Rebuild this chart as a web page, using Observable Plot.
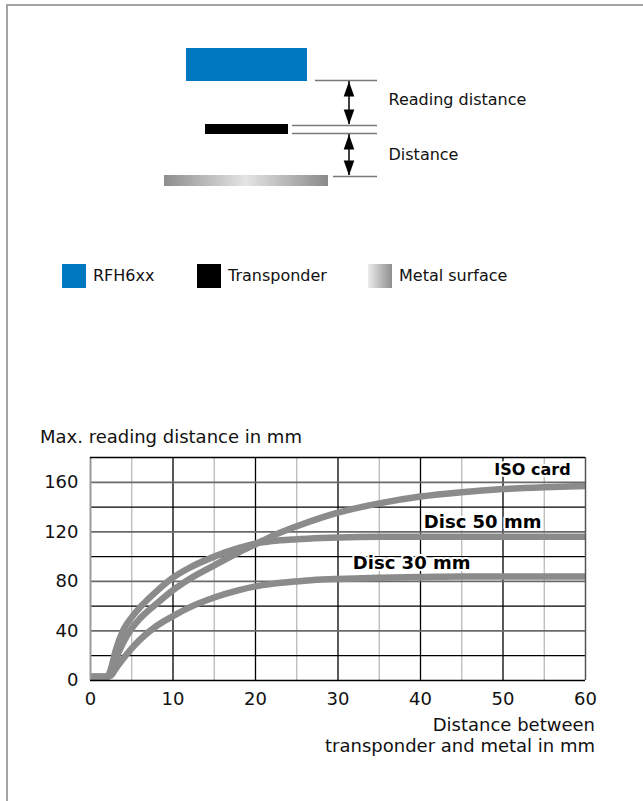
<!DOCTYPE html>
<html>
<head>
<meta charset="utf-8">
<script src="https://cdn.jsdelivr.net/npm/d3@7"></script>
<script src="https://cdn.jsdelivr.net/npm/@observablehq/plot@0.6"></script>
<style>
  html, body { margin: 0; padding: 0; background: #fff; }
  body { font-family: "DejaVu Sans", sans-serif; color: #111; }
  #page { position: relative; width: 643px; height: 801px; overflow: hidden; background: #fff; }
  #frame { position: absolute; left: 6px; top: 4px; width: 660px; height: 820px;
           border-top: 2px solid #a3a3a3; border-left: 2px solid #a3a3a3; }
  .abs { position: absolute; }
  .sw { position: absolute; width: 24px; height: 24px; }
  .lt { position: absolute; font-size: 16px; line-height: 20px; white-space: nowrap; }
  #ytitle { left: 40px; top: 427px; font-size: 18px; line-height: 20px; white-space: nowrap; }
  #xtitle { right: 48px; top: 714px; font-size: 18px; line-height: 21px; text-align: right; white-space: nowrap; }
</style>
</head>
<body>
<div id="page">
  <div id="frame"></div>
  <div id="schema" class="abs" style="left:0;top:0"></div>
  <div id="legend"></div>
  <div id="ytitle" class="abs"></div>
  <div id="chart" class="abs" style="left:0;top:450px"></div>
  <div id="xtitle" class="abs"></div>
</div>
<script>
// ---------------- data ----------------
const distance = [0, 2, 2.5, 3, 4, 5, 6, 8, 10, 12, 15, 18, 20, 22, 25, 28, 30, 35, 40, 45, 50, 55, 60];
const isoCard  = [3, 3, 7, 16, 31, 42, 50, 62, 73, 82, 93, 103.5, 110, 116.5, 124.5, 131.5, 135.5, 143, 148.5, 152, 154.5, 156, 157];
const disc50   = [3, 3, 10, 23, 41, 51, 59, 72, 83, 91, 100, 107, 110.5, 112.5, 114, 115, 115.5, 116, 116, 116, 116, 116, 116];
const disc30   = [3, 3, 4, 9, 18, 26, 33, 44, 52, 59, 67, 73, 76, 78, 80, 81.5, 82, 83, 83.5, 84, 84, 84, 84];
const seriesNames = ["ISO card", "Disc 50 mm", "Disc 30 mm"];
const xTicks = [0, 10, 20, 30, 40, 50, 60];
const yTicks = [0, 40, 80, 120, 160];
const labelX = [58.2, 40.4, 31.8];
const labelY = [170, 128, 95];
const legendNames = ["RFH6xx", "Transponder", "Metal surface"];
const yTitle = "Max. reading distance in mm";
const xTitleLines = ["Distance between", "transponder and metal in mm"];
const schemaTexts = ["Reading distance", "Distance"];

// ---------------- schematic ----------------
const S = { w: 643, h: 200 };
const parts = [
  {x1: 186, x2: 307, y1: 48, y2: 81, fill: "#0077c1"},
  {x1: 205, x2: 288, y1: 124, y2: 134, fill: "#000"},
  {x1: 164, x2: 328, y1: 175, y2: 186, fill: "url(#metalGrad)"}
];
const refLines = [
  {y: 80, x1: 315, x2: 377},
  {y: 125, x1: 292, x2: 377},
  {y: 133, x1: 292, x2: 377},
  {y: 176, x1: 333, x2: 377}
];
const shafts = [{x: 348.5, y1: 81, y2: 124}, {x: 348.5, y1: 134, y2: 175}];
const headsUp = [{x: 348.5, y: 81}, {x: 348.5, y: 134}];
const headsDown = [{x: 348.5, y: 124}, {x: 348.5, y: 175}];
const triUp = {draw(ctx) { ctx.moveTo(0, 0); ctx.lineTo(-5.3, 15); ctx.lineTo(5.3, 15); ctx.closePath(); }};
const triDown = {draw(ctx) { ctx.moveTo(0, 0); ctx.lineTo(-5.3, -15); ctx.lineTo(5.3, -15); ctx.closePath(); }};
const schemaLabels = [{x: 388, y: 99, t: schemaTexts[0]}, {x: 388, y: 154, t: schemaTexts[1]}];

const schema = Plot.plot({
  width: S.w, height: S.h,
  margin: 0,
  x: {domain: [0, S.w], range: [0, S.w], axis: null},
  y: {domain: [0, S.h], range: [0, S.h], axis: null},
  style: {fontFamily: "DejaVu Sans, sans-serif", background: "transparent"},
  marks: [
    Plot.rect(parts, {x1: "x1", x2: "x2", y1: "y1", y2: "y2", fill: d => d.fill}),
    Plot.ruleY(refLines, {y: "y", x1: "x1", x2: "x2", stroke: "#7a7a7a", strokeWidth: 1.6}),
    Plot.ruleX(shafts, {x: "x", y1: "y1", y2: "y2", stroke: "#000", strokeWidth: 1.5}),
    Plot.dot(headsUp, {x: "x", y: "y", symbol: triUp, fill: "#000", stroke: null}),
    Plot.dot(headsDown, {x: "x", y: "y", symbol: triDown, fill: "#000", stroke: null}),
    Plot.text(schemaLabels, {x: "x", y: "y", text: "t", textAnchor: "start", fontSize: 16, fill: "#111"})
  ]
});
{
  const svg = d3.select(schema);
  const defs = svg.insert("defs", ":first-child");
  const g = defs.append("linearGradient").attr("id", "metalGrad").attr("x1", "0%").attr("x2", "100%").attr("y1", "0%").attr("y2", "0%");
  g.append("stop").attr("offset", "0%").attr("stop-color", "#8e8e8e");
  g.append("stop").attr("offset", "50%").attr("stop-color", "#e4e4e4");
  g.append("stop").attr("offset", "100%").attr("stop-color", "#8a8a8a");
}
document.getElementById("schema").append(schema);

// ---------------- legend ----------------
const legendSw = [
  {left: 62, bg: "#0077c1"},
  {left: 197, bg: "#000"},
  {left: 368, bg: "linear-gradient(to right, #ececec, #8e8e8e)"}
];
const legendTx = [93, 228, 399];
const legend = document.getElementById("legend");
legendNames.forEach((n, i) => {
  const s = document.createElement("div");
  s.className = "sw";
  s.style.left = legendSw[i].left + "px";
  s.style.top = "264px";
  s.style.background = legendSw[i].bg;
  legend.append(s);
  const t = document.createElement("div");
  t.className = "lt";
  t.style.left = legendTx[i] + "px";
  t.style.top = "266px";
  t.textContent = n;
  legend.append(t);
});

// ---------------- titles ----------------
document.getElementById("ytitle").textContent = yTitle;
document.getElementById("xtitle").innerHTML = xTitleLines.join("<br>");

// ---------------- chart ----------------
const rows = [];
[isoCard, disc50, disc30].forEach((vals, s) => {
  distance.forEach((d, i) => rows.push({series: seriesNames[s], x: d, y: vals[i]}));
});
const labels = seriesNames.map((n, i) => ({name: n, x: labelX[i], y: labelY[i]}));

const minorX = [5, 15, 25, 35, 45, 55];
const majorX = [10, 20, 30, 40, 50];
const darkY = [20, 60, 100, 140];
const grayY = [40, 80, 120, 160];
const halo = {fontWeight: "bold", fill: "#000", stroke: "white", strokeWidth: 4, paintOrder: "stroke"};

const chart = Plot.plot({
  width: 643, height: 270,
  marginTop: 7, marginBottom: 40, marginLeft: 90, marginRight: 58,
  style: {fontFamily: "DejaVu Sans, sans-serif", fontSize: "18px", color: "#111", background: "transparent"},
  x: {domain: [0, 60], ticks: xTicks, tickSize: 0, tickPadding: 12, label: null},
  y: {domain: [0, 180], ticks: yTicks, tickSize: 0, tickPadding: 12, label: null},
  marks: [
    Plot.ruleX(minorX, {stroke: "#b4b4b4", strokeWidth: 1.2}),
    Plot.ruleX(majorX, {stroke: "#000", strokeWidth: 1.3}),
    Plot.ruleY(darkY, {stroke: "#000", strokeWidth: 1.3}),
    Plot.ruleY(grayY, {stroke: "#6a6a6a", strokeWidth: 1.8}),
    Plot.lineY(rows, {x: "x", y: "y", z: "series", stroke: "#8b8b8b", strokeWidth: 6.5, curve: "monotone-x", strokeLinejoin: "round", strokeLinecap: "butt"}),
    Plot.ruleX([0], {stroke: "#9a9a9a", strokeWidth: 2}),
    Plot.ruleX([60], {stroke: "#555", strokeWidth: 1.5}),
    Plot.ruleY([0, 180], {stroke: "#000", strokeWidth: 1.5}),
    Plot.text(labels.slice(0, 1), {x: "x", y: "y", text: "name", textAnchor: "end", fontSize: 16, ...halo}),
    Plot.text(labels.slice(1), {x: "x", y: "y", text: "name", textAnchor: "start", fontSize: 18, ...halo})
  ]
});
document.getElementById("chart").append(chart);
</script>
</body>
</html>
